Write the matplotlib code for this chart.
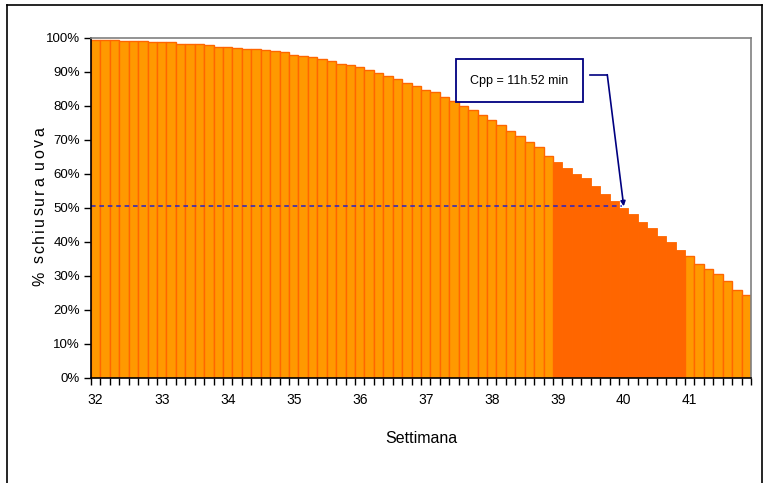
import matplotlib
matplotlib.use("Agg")
import matplotlib.pyplot as plt
from matplotlib.patches import Rectangle
from matplotlib.lines import Line2D

# Weekly labels on the x axis (one label every 7 daily bars)
weeks = [32, 33, 34, 35, 36, 37, 38, 39, 40, 41]
days_per_week = 7

# Cumulative share of eggs still to hatch, one value per day (%)
hatch_pct = [
    99.5, 99.5, 99.5, 99.1, 99.1, 99.1, 98.8,
    98.8, 98.8, 98.3, 98.3, 98.3, 97.9, 97.5,
    97.5, 97.2, 96.9, 96.9, 96.5, 96.1, 95.8,
    95.0, 94.7, 94.3, 93.7, 93.2, 92.5, 92.2,
    91.4, 90.6, 89.6, 88.8, 88.0, 86.9, 85.8,
    84.8, 84.1, 82.6, 81.5, 80.0, 78.8, 77.5,
    75.9, 74.5, 72.6, 71.1, 69.3, 67.9, 65.3,
    63.4, 61.7, 59.9, 58.7, 56.5, 54.0, 52.1,
    49.9, 48.1, 45.9, 44.0, 41.9, 39.9, 37.7,
    35.9, 33.4, 32.2, 30.5, 28.5, 25.9, 24.4,
]

# Weeks shown in the darker colour
highlight_weeks = [39, 40]

# Median reference level, the week it is reached and the annotated value
median_level = 50.5
median_week = 40
cpp_text = "Cpp = 11h.52 min"
y_title = "% schiusura uova"
x_title = "Settimana"

plt.rcParams["font.family"] = ["Liberation Sans", "DejaVu Sans"]

light = "#FF9900"
dark = "#FF6600"
navy = "#000080"

fig = plt.figure(figsize=(7.68, 4.83), dpi=100)
ax = fig.add_axes([91 / 768, 1 - 378 / 483, (751 - 91) / 768, (378 - 38) / 483])

w = 1 / days_per_week
x0 = weeks[0]
xs = [x0 + i * w for i in range(len(hatch_pct))]
week_of = [weeks[0] + i // days_per_week for i in range(len(hatch_pct))]

for x, v, wk in zip(xs, hatch_pct, week_of):
    if wk in highlight_weeks:
        ax.bar(x, v, width=w, color=dark, edgecolor=dark, linewidth=0.6, zorder=2)
    else:
        ax.bar(x, v, width=w, color=light, edgecolor=dark, linewidth=1.0, zorder=2)

left = x0 - w / 2
right = xs[-1] + w / 2
ax.set_xlim(left, right)
ax.set_ylim(0, 100)

# y axis
ax.set_yticks(range(0, 101, 10))
ax.set_yticklabels([f"{t}%" for t in range(0, 101, 10)], fontsize=9.5)
ax.tick_params(axis="y", direction="out", length=5, width=1, pad=3, colors="black")

# x axis: tick marks on every day boundary, labels once per week
ax.set_xticks([left + k * w for k in range(len(hatch_pct) + 1)], minor=True)
ax.set_xticks(weeks)
ax.set_xticklabels([str(wk) for wk in weeks], fontsize=10)
ax.tick_params(axis="x", which="major", length=0, pad=11)
ax.tick_params(axis="x", which="minor", direction="out", length=5, width=1, color="black")

ax.spines["left"].set_color("black")
ax.spines["bottom"].set_color("black")
ax.spines["top"].set_color("#808080")
ax.spines["right"].set_color("#808080")
for s in ax.spines.values():
    s.set_linewidth(1.2)
    s.set_zorder(5)

ax.set_xlabel(x_title, fontsize=11.5, labelpad=17)

# y title with widened letter spacing, drawn glyph by glyph from the bottom up
fig.canvas.draw()
renderer = fig.canvas.get_renderer()
fs = 11.5
tracking = 2.1  # extra pixels between letters
advances = []
for ch in y_title:
    t = fig.text(0, 0, ch if ch != " " else "a", fontsize=fs)
    bb = t.get_window_extent(renderer)
    advances.append(bb.width * (0.55 if ch == " " else 1.0))
    t.remove()
total = sum(advances) + tracking * (len(y_title) - 1)
base_x, cy = 44, 483 - 207
pos = cy - total / 2
for ch, adv in zip(y_title, advances):
    if ch != " ":
        fig.text(base_x / 768, pos / 483, ch, fontsize=fs, rotation=90,
                 rotation_mode="anchor", ha="left", va="baseline")
    pos += adv + tracking

# median reference line
ax.plot([left, median_week - 0.03], [median_level, median_level], color="#2222CC",
        linestyle=(0, (3, 2.5)), linewidth=1.1, zorder=3)

# annotation box
bx0, bx1 = 37.454, 39.379
by0, by1 = 81.2, 93.7
ax.add_patch(Rectangle((bx0, by0), bx1 - bx0, by1 - by0, facecolor="white",
                       edgecolor=navy, linewidth=1.3, zorder=6))
ax.text((bx0 + bx1) / 2, (by0 + by1) / 2, cpp_text, ha="center", va="center",
        fontsize=9, zorder=7)

# connector with arrow
ax.plot([39.489, 39.751], [89.2, 89.2], color=navy, linewidth=1.2, zorder=6)
ax.annotate("", xy=(median_week, median_level), xytext=(39.751, 89.2),
            arrowprops=dict(arrowstyle="-|>", color=navy, lw=1.2,
                            mutation_scale=7, shrinkA=0, shrinkB=0), zorder=6)

# outer frame
fig.add_artist(Line2D([7 / 768, 7 / 768], [0, 1 - 5 / 483], color="black", lw=1.2))
fig.add_artist(Line2D([7 / 768, 762 / 768], [1 - 5 / 483, 1 - 5 / 483], color="black", lw=1.2))
fig.add_artist(Line2D([762 / 768, 762 / 768], [0, 1 - 5 / 483], color="black", lw=1.2))

fig.savefig("out.png", dpi=100)
